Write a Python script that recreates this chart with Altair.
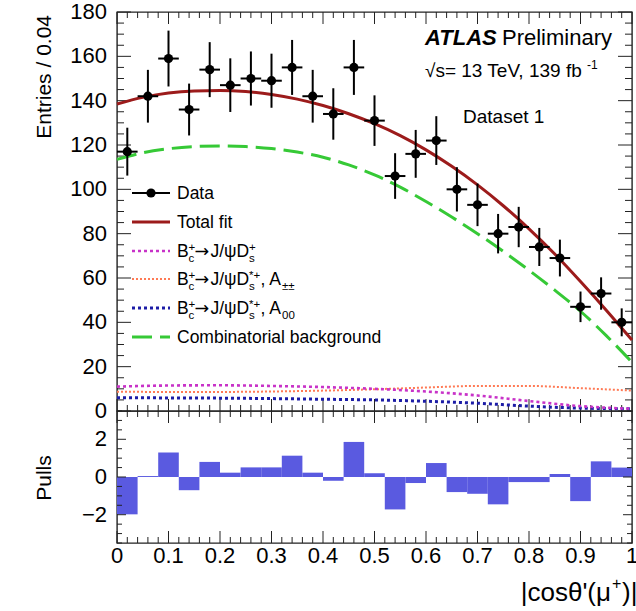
import altair as alt
import pandas as pd

FONT = "Liberation Sans"

# ------------------------------------------------------------------ data
bin_centers = [0.02, 0.06, 0.10, 0.14, 0.18, 0.22, 0.26, 0.30, 0.34, 0.38,
               0.42, 0.46, 0.50, 0.54, 0.58, 0.62, 0.66, 0.70, 0.74, 0.78,
               0.82, 0.86, 0.90, 0.94, 0.98]
counts = [117, 142, 159, 136, 154, 147, 150, 149, 155, 142,
          134, 155, 131, 106, 116, 122, 100, 93, 80, 83,
          74, 69, 47, 53, 40]
count_err = [10.8, 11.9, 12.6, 11.7, 12.4, 12.1, 12.2, 12.2, 12.4, 11.9,
             11.6, 12.4, 11.4, 10.3, 10.8, 11.0, 10.0, 9.6, 8.9, 9.1,
             8.6, 8.3, 6.9, 7.3, 6.3]
pulls = [-1.98, 0.05, 1.30, -0.70, 0.80, 0.23, 0.51, 0.51, 1.13, 0.23,
         -0.20, 1.86, 0.20, -1.72, -0.32, 0.74, -0.80, -0.89, -1.45, -0.27,
         -0.27, 0.16, -1.28, 0.83, 0.50]
half_bin = 0.02

curve_x = [0.0, 0.05, 0.10, 0.15, 0.20, 0.25, 0.30, 0.35, 0.40, 0.45, 0.50,
           0.55, 0.60, 0.65, 0.70, 0.75, 0.80, 0.85, 0.90, 0.95, 1.0]
total_fit = [138.5, 141.5, 143.5, 144.4, 144.6, 144.1, 142.8, 140.7, 137.8, 134.1, 129.6,
             124.2, 117.8, 110.4, 102.0, 92.6, 82.2, 70.8, 58.4, 45.5, 32.0]
comb_bkg = [113.5, 116.5, 118.3, 119.3, 119.6, 119.3, 118.4, 116.8, 114.5, 111.0, 106.5,
            101.0, 94.5, 87.5, 80.0, 72.0, 63.5, 54.5, 45.0, 34.0, 22.0]

comp_x = [0.0, 0.1, 0.2, 0.3, 0.4, 0.5, 0.6, 0.7, 0.8, 0.9, 1.0]
ds_plus = [11.0, 11.5, 11.6, 11.3, 10.8, 10.0, 8.8, 7.0, 4.5, 2.2, 1.0]
ds_star_pm = [8.7, 8.6, 8.6, 8.8, 9.2, 9.8, 10.6, 11.3, 11.3, 10.3, 9.2]
ds_star_00 = [6.0, 5.9, 5.8, 5.6, 5.3, 5.0, 4.4, 3.5, 2.2, 1.3, 1.0]

y_major_top = list(range(0, 181, 20))
y_minor_top = [v for v in range(0, 181, 5) if v % 20]
x_major = [round(i * 0.1, 1) for i in range(11)]
x_labels = ["0", "0.1", "0.2", "0.3", "0.4", "0.5", "0.6", "0.7", "0.8", "0.9", "1"]
x_minor = [round(i * 0.02, 2) for i in range(51) if i % 5]
y_major_bot = [-2, 0, 2]
y_labels_bot = ["\u22122", "0", "2"]
y_minor_bot = [-3.5, -3.0, -2.5, -1.5, -1.0, -0.5, 0.5, 1.0, 1.5, 2.5, 3.0, 3.5]

# ------------------------------------------------------------------ styles
W, H1, H2 = 515, 399, 132
FRAME = "#222222"
RED = "#9c1b1b"
GREEN = "#36c936"
MAGENTA = "#c832c8"
ORANGE = "#ff7a55"
BLUE = "#1c1ca6"
PULLC = "#5a5ae0"
TICKFS = 22

xs = alt.Scale(domain=[0, 1], nice=False, zero=False)
ys1 = alt.Scale(domain=[0, 180], nice=False, zero=False)
ys2 = alt.Scale(domain=[-3.5, 3.5], nice=False, zero=False)

ONE = pd.DataFrame({"k": [0]})


def txt(s, x, y, size, align="left", baseline="alphabetic", font=FONT, **kw):
    return alt.Chart(ONE).mark_text(text=s, fontSize=size, font=font, align=align,
                                    baseline=baseline, color="black", **kw).encode(
        x=alt.value(x), y=alt.value(y))


def seg(x1, x2, y, color, width, dash=None):
    kw = dict(color=color, strokeWidth=width)
    if dash:
        kw["strokeDash"] = dash
    return alt.Chart(ONE).mark_rule(**kw).encode(x=alt.value(x1), x2=alt.value(x2), y=alt.value(y))


def curve(xv, yv, color, width, dash=None):
    d = pd.DataFrame({"x": xv, "y": yv})
    kw = dict(color=color, strokeWidth=width, interpolate="monotone")
    if dash:
        kw["strokeDash"] = dash
    return alt.Chart(d).mark_line(**kw).encode(
        x=alt.X("x:Q", scale=xs, axis=None), y=alt.Y("y:Q", scale=ys1, axis=None))


def yticks(vals, ys, length):
    d = pd.DataFrame({"v": vals})
    a = alt.Chart(d).mark_rule(color=FRAME, strokeWidth=1).encode(
        y=alt.Y("v:Q", scale=ys, axis=None), x=alt.value(0), x2=alt.value(length))
    b = alt.Chart(d).mark_rule(color=FRAME, strokeWidth=1).encode(
        y=alt.Y("v:Q", scale=ys, axis=None), x=alt.value(W), x2=alt.value(W - length))
    return [a, b]


def xticks(vals, H, length):
    d = pd.DataFrame({"v": vals})
    a = alt.Chart(d).mark_rule(color=FRAME, strokeWidth=1).encode(
        x=alt.X("v:Q", scale=xs, axis=None), y=alt.value(H), y2=alt.value(H - length))
    b = alt.Chart(d).mark_rule(color=FRAME, strokeWidth=1).encode(
        x=alt.X("v:Q", scale=xs, axis=None), y=alt.value(0), y2=alt.value(length))
    return [a, b]


def ylabels(vals, labels, ys):
    d = pd.DataFrame({"v": vals, "t": labels})
    return alt.Chart(d).mark_text(font=FONT, fontSize=TICKFS, align="right",
                                  baseline="middle", color="black").encode(
        y=alt.Y("v:Q", scale=ys, axis=None), x=alt.value(-10), text="t:N")


# ------------------------------------------------------------------ top panel
pts = pd.DataFrame({"x": bin_centers, "y": counts, "err": count_err})
pts["xlo"] = pts["x"] - half_bin
pts["xhi"] = pts["x"] + half_bin
pts["ylo"] = pts["y"] - pts["err"]
pts["yhi"] = pts["y"] + pts["err"]

hbar = alt.Chart(pts).mark_rule(color="black", strokeWidth=2).encode(
    x=alt.X("xlo:Q", scale=xs, axis=None), x2="xhi:Q", y=alt.Y("y:Q", scale=ys1, axis=None))
vbar = alt.Chart(pts).mark_rule(color="black", strokeWidth=2).encode(
    x=alt.X("x:Q", scale=xs, axis=None), y=alt.Y("ylo:Q", scale=ys1, axis=None), y2="yhi:Q")
dots = alt.Chart(pts).mark_circle(color="black", size=85, opacity=1).encode(
    x=alt.X("x:Q", scale=xs, axis=None), y=alt.Y("y:Q", scale=ys1, axis=None))

top_layers = []
top_layers += yticks(y_major_top, ys1, 14)
top_layers += yticks(y_minor_top, ys1, 7)
top_layers += xticks(x_major, H1, 12)
top_layers += xticks(x_minor, H1, 6)
top_layers += [ylabels(y_major_top, [str(v) for v in y_major_top], ys1)]
top_layers += [
    curve(comp_x, ds_star_00, BLUE, 3, [3, 3]),
    curve(comp_x, ds_star_pm, ORANGE, 2, [2, 2]),
    curve(comp_x, ds_plus, MAGENTA, 2.6, [3, 3]),
    curve(curve_x, comb_bkg, GREEN, 3, [20, 8]),
    curve(curve_x, total_fit, RED, 3),
    hbar, vbar, dots,
]

# legend
FS, fs = 17.5, 11.5
rows = [181, 210, 239, 267, 296, 325]
top_layers += [
    seg(15, 53, rows[0], "black", 2),
    alt.Chart(ONE).mark_circle(color="black", size=85, opacity=1).encode(
        x=alt.value(34), y=alt.value(rows[0])),
    seg(15, 53, rows[1], RED, 3),
    seg(15, 53, rows[2], MAGENTA, 2.6, [3, 3]),
    seg(15, 53, rows[3], ORANGE, 2, [2, 2]),
    seg(15, 53, rows[4], BLUE, 3, [3, 3]),
    seg(15, 53, rows[5], GREEN, 3, [20, 8]),
    txt("Data", 60, rows[0] + 6, FS),
    txt("Total fit", 60, rows[1] + 6, FS),
    txt("Combinatorial background", 60, rows[5] + 6, FS),
]


def decay(yc, star, tail_sub):
    b = yc + 6
    out = [
        txt("B", 60, b, FS),
        txt("+", 71.5, b - 6.5, fs),
        txt("c", 71.5, b + 4.5, fs),
        txt("→", 77.5, b, FS, font="DejaVu Sans"),
        txt("J/ψD", 93.5, b, FS),
    ]
    sx = 132
    out += [txt("*+" if star else "+", sx, b - 6.5, fs), txt("s", sx, b + 4.5, fs)]
    if tail_sub:
        ax = sx + (11.5 if star else 7)
        out += [txt(", A", ax, b, FS), txt(tail_sub, ax + 21.5, b + 4.5, fs)]
    return out


top_layers += decay(rows[2], False, None)
top_layers += decay(rows[3], True, "±±")
top_layers += decay(rows[4], True, "00")

# labels
top_layers += [
    txt("ATLAS", 308, 33, 22, fontStyle="italic", fontWeight="bold"),
    txt("Preliminary", 385, 33, 22),
    txt("√s= 13 TeV, 139 fb", 308, 65, 19),
    txt("-1", 470, 57, 12),
    txt("Dataset 1", 346, 111, 19),
    txt("Entries / 0.04", -72, 3, 21, align="right", baseline="middle", angle=270),
]

top = alt.layer(*top_layers).properties(width=W, height=H1)

# ------------------------------------------------------------------ bottom panel
pdf = pd.DataFrame({"x": bin_centers, "p": pulls})
pdf["xlo"] = pdf["x"] - half_bin
pdf["xhi"] = pdf["x"] + half_bin
pdf["zero"] = 0.0
bars = alt.Chart(pdf).mark_rect(color=PULLC, opacity=1).encode(
    x=alt.X("xlo:Q", scale=xs, axis=None), x2="xhi:Q",
    y=alt.Y("zero:Q", scale=ys2, axis=None), y2="p:Q")

xlab_df = pd.DataFrame({"v": x_major, "t": x_labels})
xlabels = alt.Chart(xlab_df).mark_text(font=FONT, fontSize=TICKFS, align="center",
                                       baseline="top", color="black").encode(
    x=alt.X("v:Q", scale=xs, axis=None), y=alt.value(H2 + 3), text="t:N")

bot_layers = [bars]
bot_layers += yticks(y_major_bot, ys2, 9)
bot_layers += yticks(y_minor_bot, ys2, 5)
bot_layers += xticks(x_major, H2, 12)
bot_layers += xticks(x_minor, H2, 6)
bot_layers += [ylabels(y_major_bot, y_labels_bot, ys2), xlabels]
bot_layers += [
    txt("Pulls", -72, H2 / 2 + 1, 21, align="center", baseline="middle", angle=270),
    txt("|cosθ'(μ", 494, 190, 26, align="right"),
    txt("+", 495, 178, 16),
    txt(")|", 505, 190, 26, align="left"),
]
bottom = alt.layer(*bot_layers).properties(width=W, height=H2)

chart = alt.vconcat(top, bottom, spacing=0, bounds="flush").properties(
    autosize=alt.AutoSizeParams(type="none"),
    padding={"left": 117, "top": 12, "right": 4, "bottom": 599},
).configure_view(stroke=FRAME, strokeWidth=1.4)

chart.save("out.html", embed_options={"renderer": "svg", "actions": False})
